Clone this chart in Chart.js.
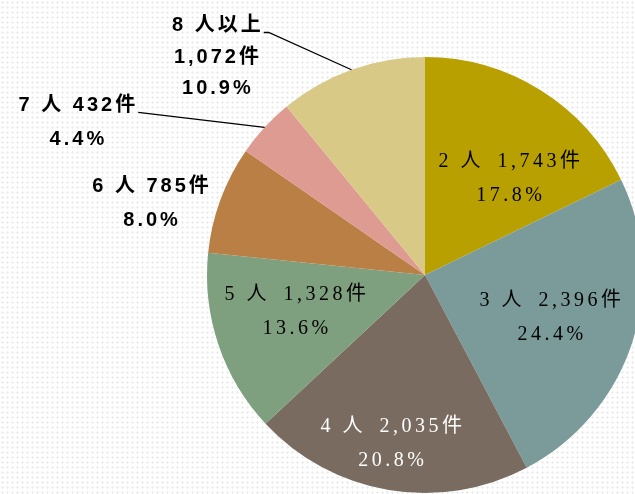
<!DOCTYPE html>
<html>
<head>
<meta charset="utf-8">
<script src="https://cdn.jsdelivr.net/npm/chart.js@4/dist/chart.umd.min.js"></script>
<style>
  html, body {
    margin: 0;
    padding: 0;
    overflow: hidden;
    background-color: #fff;
    background-image: radial-gradient(#ededed 1px, transparent 1.4px);
    background-size: 5px 5px;
  }
  #wrap { width: 650px; height: 494px; }
</style>
</head>
<body>
<div id="wrap"><canvas id="chart" width="650" height="494"></canvas></div>
<script>
// 世帯人員別 件数
const categories = ["2 人", "3 人", "4 人", "5 人", "6 人", "7 人", "8 人以上"];
const counts = [1743, 2396, 2035, 1328, 785, 432, 1072];
const percents = ["17.8%", "24.4%", "20.8%", "13.6%", "8.0%", "4.4%", "10.9%"];
const colors = ["#B8A000", "#7B9B9B", "#7A6B60", "#7FA07E", "#B97F45", "#DE9B92", "#D9C987"];

// label placement, relative to the pie centre in units of radius
const labelPos = [
  [0.394, -0.44], [0.583, 0.197], [-0.147, 0.775], [-0.587, 0.17],
  [-1.252, -0.33], [-1.59, -0.70], [-0.95, -1.0]
];

function labelLines(i) {
  const n = counts[i].toLocaleString("en-US") + "件";
  if (i === 6) return [categories[i], n, percents[i]];
  if (i >= 4) return [categories[i] + " " + n, percents[i]];
  return [categories[i] + "\u2002" + n, percents[i]];
}

const labelPlugin = {
  id: "pieLabels",
  afterDatasetsDraw(chart) {
    const ctx = chart.ctx;
    const meta = chart.getDatasetMeta(0);
    meta.data.forEach((arc, i) => {
      const p = arc.getProps(["x", "y", "startAngle", "endAngle", "outerRadius"], true);
      const r = p.outerRadius;
      const outside = i >= 4;
      const lines = labelLines(i);
      const gap = i === 6 ? 31.5 : 34;
      const cx = p.x + labelPos[i][0] * r;
      const cy = p.y + labelPos[i][1] * r;
      ctx.save();
      if (outside) {
        ctx.font = "bold 20px 'Liberation Sans', 'Noto Sans CJK JP', sans-serif";
        ctx.letterSpacing = "3px";
        ctx.fillStyle = "#000";
      } else {
        ctx.font = "20px 'Liberation Serif', 'Noto Sans CJK JP', serif";
        ctx.letterSpacing = "3.5px";
        ctx.fillStyle = i === 2 ? "#fff" : "#000";
      }
      ctx.textAlign = "center";
      ctx.textBaseline = "middle";
      const top = cy - gap * (lines.length - 1) / 2;
      lines.forEach((t, k) => ctx.fillText(t, cx, top + k * gap));

      // leader lines for the two small slices at the top
      if (i >= 5) {
        const w = ctx.measureText(lines[0]).width;
        const sx = cx + w / 2;
        const sy = top + 7;
        const mid = (p.startAngle + p.endAngle) / 2;
        const ex = p.x + Math.cos(mid) * r;
        const ey = p.y + Math.sin(mid) * r;
        ctx.strokeStyle = "#000";
        ctx.lineWidth = 1.3;
        ctx.beginPath();
        ctx.moveTo(sx, sy);
        if (i === 6) ctx.lineTo(sx + 5, sy);
        ctx.lineTo(ex, ey);
        ctx.stroke();
      }
      ctx.restore();
    });
  }
};

new Chart(document.getElementById("chart"), {
  type: "pie",
  data: {
    labels: categories,
    datasets: [{
      data: counts,
      backgroundColor: colors,
      borderWidth: 0
    }]
  },
  options: {
    responsive: false,
    animation: false,
    layout: { padding: { left: 207, right: 7, top: 57, bottom: 1 } },
    plugins: {
      legend: { display: false },
      tooltip: { enabled: false }
    }
  },
  plugins: [labelPlugin]
});
</script>
</body>
</html>
